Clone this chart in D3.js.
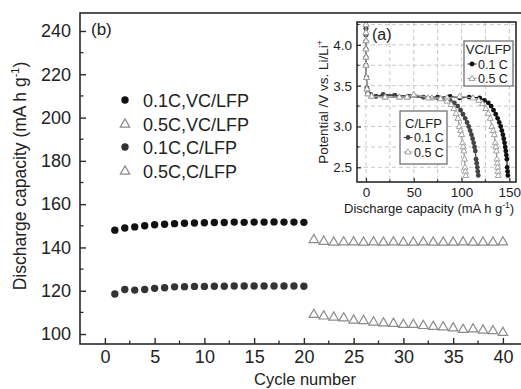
<!DOCTYPE html>
<html><head><meta charset="utf-8">
<script src="https://cdn.jsdelivr.net/npm/d3@7"></script>
<style>body{margin:0;background:#fff}svg{display:block}text{font-family:"Liberation Sans",Arial,sans-serif;fill:#222}</style>
</head><body><svg id="c" width="521" height="389"></svg>
<script>
// ---- main plot data ----
const cyclesA = d3.range(1, 21);
const cyclesB = d3.range(21, 41);
const vc01 = [148.0,149.0,149.5,150.0,150.5,150.7,151.0,151.2,151.3,151.4,151.5,151.5,151.7,151.6,151.7,151.7,151.8,151.7,151.7,151.6];
const vc05 = [143.7,142.9,142.5,142.6,142.6,142.5,142.6,142.5,142.6,142.5,142.5,142.6,142.5,142.5,142.5,142.6,142.5,142.5,142.5,142.6];
const c01  = [118.5,120.6,120.3,120.6,121.1,121.4,121.8,121.9,122.0,122.0,122.1,122.1,122.2,122.2,122.2,122.2,122.2,122.2,122.2,122.1];
const c05  = [109.1,108.4,107.9,107.5,106.5,106.3,105.6,105.2,105.0,104.5,104.5,104.0,103.6,103.4,102.9,102.2,102.4,101.9,101.6,100.8];
const xTicks = [0,5,10,15,20,25,30,35,40];
const yTicks = [100,120,140,160,180,200,220,240];
const legendLabels = ["0.1C,VC/LFP","0.5C,VC/LFP","0.1C,C/LFP","0.5C,C/LFP"];

// ---- inset data (discharge curves) ----
const vc01Cap = [0,0,0,0,0,0,0.5,1,2,5,10.5,18,30,45,60,75,81,88,98,108,119,124,128,131,133.5,135.8,137.8,139.5,141,142.2,143.3,144.2,145,145.7,146.3,146.9,147.4,147.8,148.2,148.5];
const vc01V   = [4.2,4.12,4.05,3.95,3.85,3.75,3.6,3.47,3.41,3.39,3.37,3.39,3.38,3.37,3.36,3.36,3.34,3.37,3.35,3.36,3.35,3.32,3.29,3.25,3.2,3.15,3.1,3.05,3.0,2.95,2.9,2.85,2.8,2.75,2.7,2.65,2.6,2.5,2.45,2.4];
const vc05Cap = [0,0,0,0,0,0,0.5,1,2,6,20,35,43,50,69,85,98,112,118,122,125.5,128,130,131.8,133.2,134.3,135.2,135.9,136.5,137,137.4,137.8,138.1,138.4];
const vc05V   = [4.25,4.15,4.05,3.95,3.85,3.75,3.6,3.46,3.4,3.37,3.36,3.36,3.36,3.39,3.35,3.35,3.37,3.35,3.32,3.28,3.22,3.16,3.1,3.0,2.95,2.9,2.8,2.75,2.7,2.6,2.55,2.5,2.45,2.4];
const c01Cap  = [0,0,0,0,0,0,0.5,1,2,5,10.5,18,30,45,60,75,82,88,92.5,96,99,101.5,103.8,105.8,107.5,109,110.4,111.6,112.7,113.6,114.4,115.2,115.9,116.5,117,117.5];
const c01V    = [4.2,4.12,4.05,3.95,3.85,3.75,3.6,3.47,3.41,3.39,3.37,3.39,3.38,3.37,3.36,3.35,3.34,3.32,3.29,3.25,3.2,3.15,3.1,3.05,3.0,2.95,2.9,2.85,2.8,2.75,2.7,2.6,2.55,2.5,2.45,2.4];
const c05Cap  = [0,0,0,0,0,0,0.5,1,2,6,20,35,43,50,65,78,85,89,92,94.3,96.2,97.7,99,100.1,101,101.8,102.5,103.1,103.6,104.1,104.5];
const c05V    = [4.25,4.15,4.05,3.95,3.85,3.75,3.6,3.46,3.4,3.37,3.36,3.36,3.36,3.39,3.35,3.34,3.31,3.27,3.22,3.16,3.1,3.0,2.95,2.9,2.8,2.75,2.7,2.6,2.5,2.45,2.4];
const inXTicks = [0,50,100,150];
const inYTicks = [2.5,3.0,3.5,4.0];

const svg = d3.select("#c");
const dark = "#2a2a2a";
const FONT = "Liberation Sans, Arial, sans-serif";
const triPath = (s) => { const h = s*0.866; return `M0,${-h*0.62}L${s/2},${h*0.38}L${-s/2},${h*0.38}Z`; };

// ---- main scales ----
const x = d3.scaleLinear().domain([-2.5, 42]).range([80, 522.8]);
const y = d3.scaleLinear().domain([95.4, 248.3]).range([344, 13]);

const g = svg.append("g");
g.append("rect").attr("x", x.range()[0]).attr("y", y.range()[1])
  .attr("width", x.range()[1]-x.range()[0]).attr("height", y.range()[0]-y.range()[1])
  .attr("fill","none").attr("stroke",dark).attr("stroke-width",1.6);

// x axis ticks (inward)
const xAx = g.append("g").attr("transform",`translate(0,${y.range()[0]})`)
  .call(d3.axisBottom(x).tickValues(xTicks).tickSize(-6).tickSizeOuter(0).tickPadding(6));
xAx.select(".domain").remove();
xAx.selectAll("line").attr("stroke",dark).attr("stroke-width",1.4);
xAx.selectAll("text").attr("font-size",18).attr("fill","#222").attr("font-family",FONT);
g.append("g").selectAll("line").data(xTicks.map(v=>v+2.5).filter(v=>v<42)).join("line")
  .attr("x1",d=>x(d)).attr("x2",d=>x(d)).attr("y1",y.range()[0]).attr("y2",y.range()[0]-3.5)
  .attr("stroke",dark).attr("stroke-width",1.3);

// y axis
const yAx = g.append("g").attr("transform",`translate(${x.range()[0]},0)`)
  .call(d3.axisLeft(y).tickValues(yTicks).tickSize(-6).tickSizeOuter(0).tickPadding(9));
yAx.select(".domain").remove();
yAx.selectAll("line").attr("stroke",dark).attr("stroke-width",1.4);
yAx.selectAll("text").attr("font-size",18).attr("fill","#222").attr("font-family",FONT);
g.append("g").selectAll("line").data(yTicks.map(v=>v+10).filter(v=>v>95.4&&v<248.3)).join("line")
  .attr("x1",x.range()[0]).attr("x2",x.range()[0]+3.5).attr("y1",d=>y(d)).attr("y2",d=>y(d))
  .attr("stroke",dark).attr("stroke-width",1.3);

// axis labels
svg.append("text").attr("x",305).attr("y",385).attr("text-anchor","middle").attr("font-size",16.5).text("Cycle number");
const yl = svg.append("text").attr("transform","translate(26,176) rotate(-90)").attr("text-anchor","middle").attr("font-size",17.5);
yl.append("tspan").text("Discharge capacity (mA h g");
yl.append("tspan").attr("font-size",11).attr("dy",-7).text("-1");
yl.append("tspan").attr("dy",7).text(")");
svg.append("text").attr("x",91).attr("y",35).attr("font-size",17).text("(b)");

// data marks
const dots = (cyc, vals, col) => g.append("g").selectAll("circle").data(vals).join("circle")
  .attr("cx",(d,i)=>x(cyc[i])).attr("cy",d=>y(d)).attr("r",3.7).attr("fill",col);
const tris = (cyc, vals) => g.append("g").selectAll("path").data(vals).join("path")
  .attr("transform",(d,i)=>`translate(${x(cyc[i])},${y(d)})`).attr("d",triPath(9.5))
  .attr("fill","none").attr("stroke","#8a8a8a").attr("stroke-width",1.2);
dots(cyclesA, vc01, "#111");
tris(cyclesB, vc05);
dots(cyclesA, c01, "#333");
tris(cyclesB, c05);

// legend
const lgY = [100,124,147,171];
legendLabels.forEach((lab,i)=>{
  if (i%2===0) svg.append("circle").attr("cx",125).attr("cy",lgY[i]).attr("r",3.7).attr("fill", i===0?"#111":"#333");
  else svg.append("path").attr("transform",`translate(125,${lgY[i]})`).attr("d",triPath(9.5)).attr("fill","none").attr("stroke","#8a8a8a").attr("stroke-width",1.2);
  svg.append("text").attr("x",143).attr("y",lgY[i]+6.5).attr("font-size",18).text(lab);
});

// ---- inset ----
const xi = d3.scaleLinear().domain([-9.4, 157]).range([357, 516]);
const yi = d3.scaleLinear().domain([2.32, 4.28]).range([182, 22]);
const gi = svg.append("g");
gi.append("rect").attr("x",357).attr("y",22).attr("width",159).attr("height",160).attr("fill","#fff");
gi.append("g").selectAll("line").data(d3.range(0,151,25)).join("line")
  .attr("x1",d=>xi(d)).attr("x2",d=>xi(d)).attr("y1",22).attr("y2",182)
  .attr("stroke","#bbb").attr("stroke-width",0.8).attr("stroke-dasharray","4,3");
gi.append("g").selectAll("line").data([2.5,2.75,3.0,3.25,3.5,3.75,4.0,4.25]).join("line")
  .attr("x1",357).attr("x2",516).attr("y1",d=>yi(d)).attr("y2",d=>yi(d))
  .attr("stroke","#bbb").attr("stroke-width",0.8).attr("stroke-dasharray","4,3");

const line = d3.line().x(d=>xi(d[0])).y(d=>yi(d[1]));
const curve = (cap, v, col, kind) => {
  const pts = cap.map((c,i)=>[c,v[i]]);
  gi.append("path").attr("d",line(pts)).attr("fill","none").attr("stroke",col).attr("stroke-width",1.2);
  if (kind==="dot") gi.append("g").selectAll("circle").data(pts).join("circle")
    .attr("cx",d=>xi(d[0])).attr("cy",d=>yi(d[1])).attr("r",2.4).attr("fill",col);
  else gi.append("g").selectAll("path").data(pts).join("path")
    .attr("transform",d=>`translate(${xi(d[0])},${yi(d[1])})`).attr("d",triPath(6))
    .attr("fill","#fff").attr("stroke",col).attr("stroke-width",0.9);
};
curve(vc01Cap, vc01V, "#111", "dot");
curve(c01Cap, c01V, "#444", "dot");
curve(vc05Cap, vc05V, "#999", "tri");
curve(c05Cap, c05V, "#999", "tri");

gi.append("rect").attr("x",357).attr("y",22).attr("width",159).attr("height",160)
  .attr("fill","none").attr("stroke",dark).attr("stroke-width",1.6);
const ixAx = gi.append("g").attr("transform","translate(0,182)")
  .call(d3.axisBottom(xi).tickValues(inXTicks).tickSize(-4).tickSizeOuter(0).tickPadding(5).tickFormat(d3.format("d")));
ixAx.select(".domain").remove();
ixAx.selectAll("line").attr("stroke",dark).attr("stroke-width",1.2);
ixAx.selectAll("text").attr("font-size",13.5).attr("fill","#222").attr("font-family",FONT);
gi.append("g").selectAll("line").data([25,75,125]).join("line")
  .attr("x1",d=>xi(d)).attr("x2",d=>xi(d)).attr("y1",182).attr("y2",179.5).attr("stroke",dark).attr("stroke-width",1.1);
const iyAx = gi.append("g").attr("transform","translate(357,0)")
  .call(d3.axisLeft(yi).tickValues(inYTicks).tickSize(-4).tickSizeOuter(0).tickPadding(5).tickFormat(d3.format(".1f")));
iyAx.select(".domain").remove();
iyAx.selectAll("line").attr("stroke",dark).attr("stroke-width",1.2);
iyAx.selectAll("text").attr("font-size",13.5).attr("fill","#222").attr("font-family",FONT);
gi.append("g").selectAll("line").data([2.75,3.25,3.75,4.25]).join("line")
  .attr("x1",357).attr("x2",359.5).attr("y1",d=>yi(d)).attr("y2",d=>yi(d)).attr("stroke",dark).attr("stroke-width",1.1);

const ixl = svg.append("text").attr("x",344).attr("y",213).attr("font-size",13);
ixl.append("tspan").text("Discharge capacity  (mA h g");
ixl.append("tspan").attr("font-size",8.5).attr("dy",-5).text("-1");
ixl.append("tspan").attr("dy",5).text(")");
const iyl = svg.append("text").attr("transform","translate(328,102) rotate(-90)").attr("text-anchor","middle").attr("font-size",13.5);
iyl.append("tspan").text("Potential /V vs. Li/Li");
iyl.append("tspan").attr("font-size",8.5).attr("dy",-5).text("+");
svg.append("text").attr("x",372).attr("y",40).attr("font-size",16).text("(a)");

// inset legends
const insetLegend = (bx, by, bw, bh, title, rows, rowY) => {
  svg.append("rect").attr("x",bx).attr("y",by).attr("width",bw).attr("height",bh)
    .attr("fill","#fff").attr("stroke","#666").attr("stroke-width",1.2);
  svg.append("text").attr("x",bx+bw/2).attr("y",rowY[0]+4.5).attr("text-anchor","middle").attr("font-size",13).text(title);
  rows.forEach((r,i)=>{
    const cy = rowY[i+1], mx = bx + 8;
    svg.append("line").attr("x1",mx-4.5).attr("x2",mx+4.5).attr("y1",cy).attr("y2",cy).attr("stroke",r.col).attr("stroke-width",1);
    if (r.kind==="dot") svg.append("circle").attr("cx",mx).attr("cy",cy).attr("r",2.4).attr("fill",r.col);
    else svg.append("path").attr("transform",`translate(${mx},${cy})`).attr("d",triPath(6)).attr("fill","#fff").attr("stroke",r.col).attr("stroke-width",0.9);
    svg.append("text").attr("x",mx+6).attr("y",cy+4.5).attr("font-size",12.5).text(r.label);
  });
};
insetLegend(464, 41, 49, 45, "VC/LFP", [{label:"0.1 C",kind:"dot",col:"#111"},{label:"0.5 C",kind:"tri",col:"#999"}], [49.5,64,78.5]);
insetLegend(400, 111, 47, 53, "C/LFP", [{label:"0.1 C",kind:"dot",col:"#444"},{label:"0.5 C",kind:"tri",col:"#999"}], [123,137.5,152]);
</script></body></html>
